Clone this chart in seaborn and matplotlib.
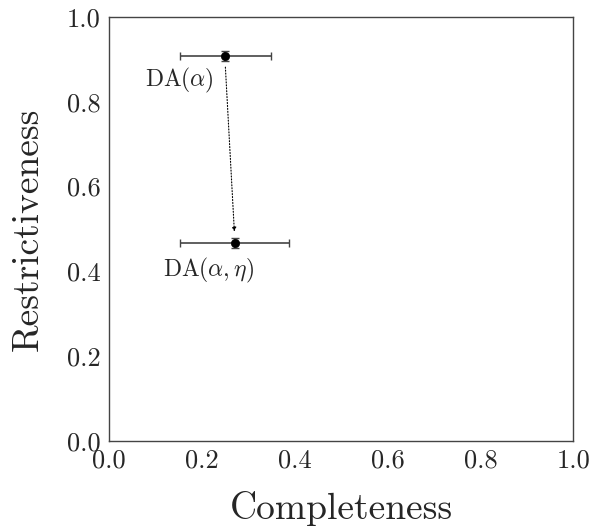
import numpy as np
import pandas as pd
import matplotlib
matplotlib.use("Agg")
import matplotlib.pyplot as plt
import seaborn as sns

# Values
methods = [r"DA($\alpha$)", r"DA($\alpha,\eta$)"]
completeness = [0.25, 0.27]
completeness_err = [0.098, 0.118]
restrictiveness = [0.908, 0.467]
restrictiveness_err = [0.012, 0.012]
ticks = [0.0, 0.2, 0.4, 0.6, 0.8, 1.0]

df = pd.DataFrame({"method": methods, "completeness": completeness,
                   "restrictiveness": restrictiveness})

sns.set_style("white")
plt.rcParams["font.family"] = ["cmr10", "DejaVu Serif"]
plt.rcParams["mathtext.fontset"] = "cm"
plt.rcParams["axes.formatter.use_mathtext"] = True

fig, ax = plt.subplots(figsize=(5.9, 5.28), dpi=100)

ax.errorbar(df["completeness"], df["restrictiveness"],
            xerr=completeness_err, yerr=restrictiveness_err,
            fmt="none", ecolor="#444444", elinewidth=1.2, capsize=3, zorder=2)
sns.scatterplot(data=df, x="completeness", y="restrictiveness", ax=ax,
                color="black", s=36, edgecolor="black", zorder=3)

# dotted arrow from first to second point
ax.annotate("", xy=(completeness[1], restrictiveness[1] + 0.02),
            xytext=(completeness[0], restrictiveness[0] - 0.02),
            arrowprops=dict(arrowstyle="-|>", linestyle=":", color="black",
                            lw=0.8, mutation_scale=6))

ax.text(0.078, 0.849, methods[0], fontsize=17, ha="left", va="center")
ax.text(0.215, 0.403, methods[1], fontsize=17, ha="center", va="center")

ax.set_xlim(0, 1)
ax.set_ylim(0, 1)
ax.set_xticks(ticks)
ax.set_yticks(ticks)
ax.set_xticklabels([f"{v:.1f}" for v in ticks])
ax.set_yticklabels([f"{v:.1f}" for v in ticks])
ax.tick_params(labelsize=19, length=0, pad=6)
ax.set_xlabel("Completeness", fontsize=27, labelpad=13)
ax.set_ylabel("Restrictiveness", fontsize=27, labelpad=16)
for s in ax.spines.values():
    s.set_color("#444444")
    s.set_linewidth(1.0)

fig.subplots_adjust(left=0.185, right=0.972, top=0.968, bottom=0.165)
fig.savefig("out.png", dpi=100)
